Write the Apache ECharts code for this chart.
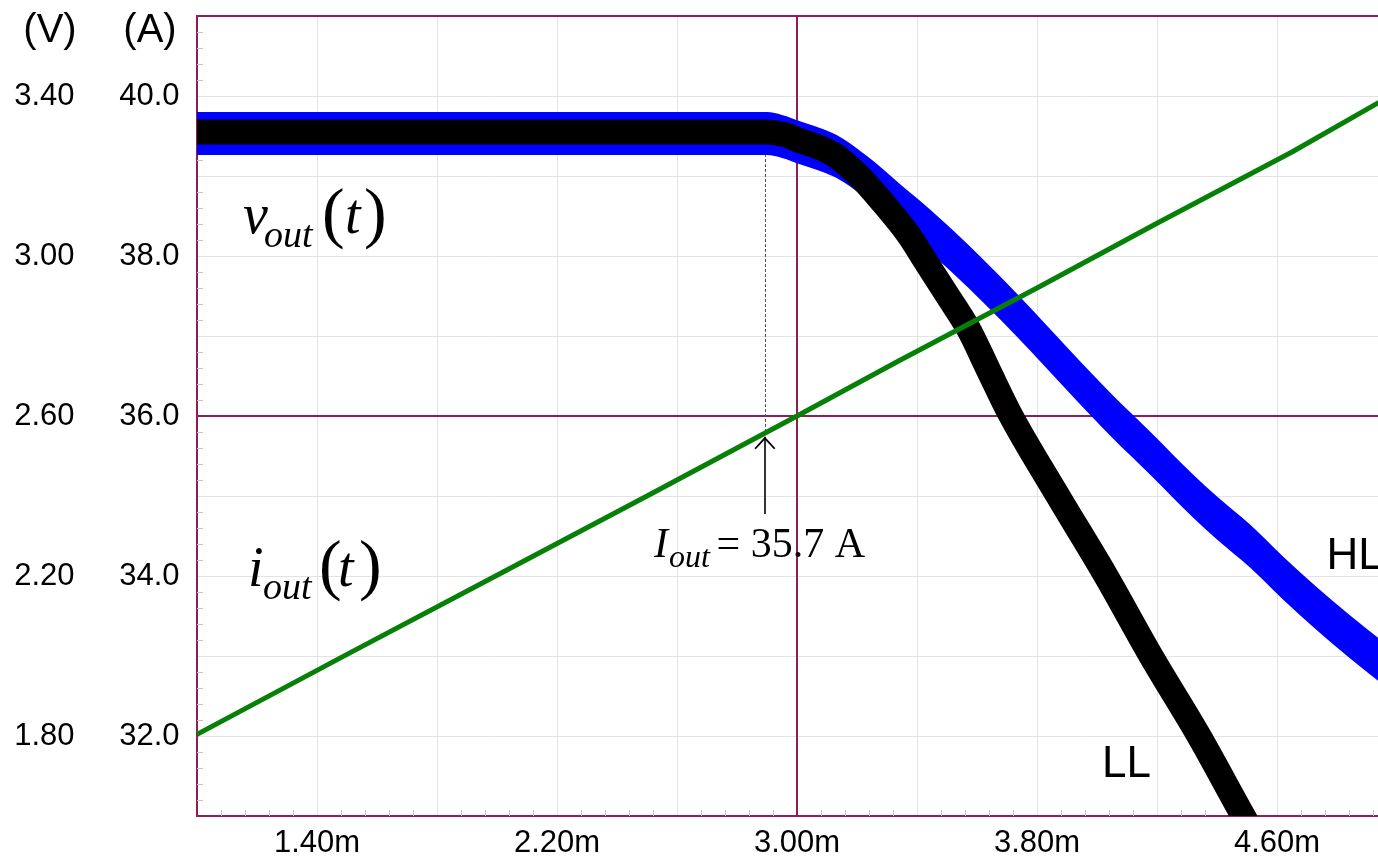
<!DOCTYPE html>
<html><head><meta charset="utf-8">
<script src="https://cdn.jsdelivr.net/npm/echarts@6/dist/echarts.min.js"></script>
<style>html,body{margin:0;padding:0;background:#fff}#c{width:1378px;height:856px}</style>
</head><body><div id="c"></div>
<script>
// ---- data (time in ms, voltage in V, current in A) ----
const timeHL = [1.00, 2.70, 2.90, 2.95, 3.01, 3.12, 3.23, 3.34, 3.45, 3.57, 3.68, 3.78, 3.91, 4.05, 4.18, 4.32, 4.40, 4.51, 4.62, 4.73, 4.84, 4.94, 5.00];
const vHL    = [3.306, 3.306, 3.306, 3.299, 3.283, 3.253, 3.198, 3.128, 3.058, 2.975, 2.893, 2.815, 2.710, 2.600, 2.505, 2.400, 2.345, 2.275, 2.195, 2.120, 2.050, 1.990, 1.955];
const hlRippleV = 0.1075;   // peak-to-peak ripple of the HL trace
const timeLL = [1.00, 2.90, 2.96, 3.01, 3.07, 3.12, 3.20, 3.29, 3.37, 3.43, 3.50, 3.57, 3.64, 3.71, 3.87, 4.03, 4.18, 4.34, 4.48, 4.54];
const vLL    = [3.310, 3.310, 3.303, 3.288, 3.273, 3.255, 3.205, 3.130, 3.055, 2.985, 2.903, 2.820, 2.712, 2.605, 2.400, 2.200, 2.000, 1.800, 1.610, 1.530];
const timeI  = [1.00, 1.50, 2.00, 2.50, 3.00, 3.34, 3.80, 4.20, 4.65, 4.94];
const iOut   = [32.02, 33.02, 34.01, 35.00, 36.00, 36.69, 37.60, 38.41, 39.30, 39.92];
const markerTime = 2.893;          // instant where I_out = 35.7 A
const markerDotTop = 39.275, markerDotBottom = 35.79;
const arrowFrom = 34.775, arrowTo = 35.74;
const xTickValues = [1.4, 2.2, 3.0, 3.8, 4.6];
const xTickLabels = ['1.40m', '2.20m', '3.00m', '3.80m', '4.60m'];
const vTickValues = [1.8, 2.2, 2.6, 3.0, 3.4];
const vTickLabels = ['1.80', '2.20', '2.60', '3.00', '3.40'];
const aTickValues = [32, 34, 36, 38, 40];
const aTickLabels = ['32.0', '34.0', '36.0', '38.0', '40.0'];

const MAROON = '#8E1E55';
const GRIDC = '#e3e3e3';
const TICKC = '#c4c4c4';
const SANS = '"Liberation Sans", Arial, sans-serif';
const SERIF = '"Liberation Serif", "Times New Roman", serif';
const X_MIN = 1.0, X_MAX = 1.0 + 1181 / 300;

function pick(vals, labels) {
  return function (v) {
    const i = vals.findIndex(t => Math.abs(t - v) < 1e-6);
    return i < 0 ? '' : labels[i];
  };
}
function zip(a, b) { return a.map((t, i) => [t, b[i]]); }
// monotone cubic (PCHIP, in x) through pixel points -> bezier path commands (after the M of p[0])
function smoothPath(p) {
  const n = p.length, h = [], d = [], m = [];
  for (let i = 0; i < n - 1; i++) { h.push(p[i + 1][0] - p[i][0]); d.push((p[i + 1][1] - p[i][1]) / h[i]); }
  m[0] = d[0]; m[n - 1] = d[n - 2];
  for (let i = 1; i < n - 1; i++) {
    if (d[i - 1] * d[i] <= 0) { m[i] = 0; continue; }
    const w1 = 2 * h[i] + h[i - 1], w2 = h[i] + 2 * h[i - 1];
    m[i] = (w1 + w2) / (w1 / d[i - 1] + w2 / d[i]);
  }
  let s = '';
  for (let i = 0; i < n - 1; i++) {
    const k = h[i] / 3;
    s += ' C' + (p[i][0] + k) + ',' + (p[i][1] + m[i] * k) + ' ' +
         (p[i + 1][0] - k) + ',' + (p[i + 1][1] - m[i + 1] * k) + ' ' + p[i + 1][0] + ',' + p[i + 1][1];
  }
  return s;
}

const chart = echarts.init(document.getElementById('c'), null, {renderer: 'canvas'});

function txt(text, x, y, font, align) {
  return {type: 'text', x: x, y: y, silent: true, z: 100,
    style: {text: text, font: font, fill: '#000', textAlign: align || 'left', textVerticalAlign: 'middle'}};
}

const arrowPath = 'path://M0,0 L9,10 L7.8,10.9 L0,2.3 L-7.8,10.9 L-9,10 Z M0,-10.9 L0.02,-10.9 L0,-10.88 Z';
const borderLine = {show: true, lineStyle: {color: MAROON, width: 2}};

chart.setOption({
  animation: false,
  backgroundColor: '#fff',
  grid: {left: 197, top: 16, right: 0, height: 800, outerBoundsMode: 'none', containLabel: false},
  xAxis: [
    {
      type: 'value', min: X_MIN, max: X_MAX, interval: 0.4, position: 'bottom',
      axisLine: borderLine,
      axisTick: {show: false, inside: true},
      minorTick: {show: true, splitNumber: 5, length: 6, lineStyle: {color: TICKC, width: 1}},
      splitLine: {show: true, showMinLine: false, showMaxLine: false, lineStyle: {color: GRIDC, width: 1}},
      axisLabel: {margin: 12, fontSize: 31, fontFamily: SANS, color: '#000',
                  showMaxLabel: false, formatter: pick(xTickValues, xTickLabels)}
    },
    {
      type: 'value', min: X_MIN, max: X_MAX, interval: 0.4, position: 'top',
      axisLine: borderLine, axisTick: {show: false}, splitLine: {show: false}, axisLabel: {show: false}
    }
  ],
  yAxis: [
    {
      type: 'value', position: 'left', min: 1.6, max: 3.6, interval: 0.2,
      axisLine: {show: false},
      axisTick: {show: false, inside: true},
      minorTick: {show: true, splitNumber: 5, length: 6, lineStyle: {color: TICKC, width: 1}},
      splitLine: {show: true, showMinLine: false, showMaxLine: false, lineStyle: {color: GRIDC, width: 1}},
      axisLabel: {margin: 122.5, fontSize: 31, fontFamily: SANS, color: '#000', padding: [3, 0, 0, 0],
                  formatter: pick(vTickValues, vTickLabels)}
    },
    {
      type: 'value', position: 'left', min: 31, max: 41, interval: 1,
      axisLine: borderLine, axisTick: {show: false}, splitLine: {show: false},
      axisLabel: {margin: 17.5, fontSize: 31, fontFamily: SANS, color: '#000', padding: [3, 0, 0, 0],
                  formatter: pick(aTickValues, aTickLabels)}
    }
  ],
  series: [
    {
      type: 'custom', name: 'HL', xAxisIndex: 0, yAxisIndex: 0, z: 2, silent: true, clip: true,
      data: zip(timeHL, vHL), encode: {x: 0, y: 1},
      renderItem: function (params, api) {
        if (params.dataIndex !== 0) return null;
        const up = [], lo = [];
        for (let i = 0; i < timeHL.length; i++) {
          up.push(api.coord([timeHL[i], vHL[i] + hlRippleV / 2]));
          lo.push(api.coord([timeHL[i], vHL[i] - hlRippleV / 2]));
        }
        lo.reverse();
        const d = 'M' + up[0][0] + ',' + up[0][1] + smoothPath(up) +
                  ' L' + lo[0][0] + ',' + lo[0][1] + smoothPath(lo) + ' Z';
        return {type: 'path', shape: {pathData: d}, style: {fill: '#0000ff'}};
      }
    },
    {
      type: 'custom', name: 'LL', xAxisIndex: 0, yAxisIndex: 0, z: 3, silent: true, clip: true,
      data: zip(timeLL, vLL), encode: {x: 0, y: 1},
      renderItem: function (params, api) {
        if (params.dataIndex !== 0) return null;
        const pts = timeLL.map((t, i) => api.coord([t, vLL[i]]));
        const d = 'M' + pts[0][0] + ',' + pts[0][1] + smoothPath(pts);
        return {type: 'path', shape: {pathData: d},
                style: {fill: 'none', stroke: '#000', lineWidth: 25, lineCap: 'butt', lineJoin: 'round'}};
      }
    },
    {
      type: 'line', name: 'iout', xAxisIndex: 0, yAxisIndex: 1, z: 4, silent: true,
      data: zip(timeI, iOut), showSymbol: false,
      lineStyle: {color: '#078007', width: 5},
      markLine: {
        silent: true, z: 1, symbol: 'none', label: {show: false}, emphasis: {disabled: true},
        data: [
          {yAxis: 36, lineStyle: {color: MAROON, width: 2, type: 'solid'}},
          {xAxis: 3.0, lineStyle: {color: MAROON, width: 2, type: 'solid'}},
          [
            {coord: [markerTime, markerDotTop], lineStyle: {color: '#555', width: 1, type: [3, 2]}},
            {coord: [markerTime, markerDotBottom], lineStyle: {color: '#555', width: 1, type: [3, 2]}}
          ],
          [
            {coord: [markerTime, arrowFrom], symbol: 'none', lineStyle: {color: '#000', width: 1.6, type: 'solid'}},
            {coord: [markerTime, arrowTo], symbol: arrowPath, symbolSize: [21, 25], lineStyle: {color: '#000', width: 1.6, type: 'solid'}}
          ]
        ]
      }
    }
  ],
  graphic: [
    txt('(V)', 50, 31, '40px ' + SANS, 'center'),
    txt('(A)', 150, 31, '40px ' + SANS, 'center'),
    // v_out(t)
    txt('v', 243, 218, 'italic 56px ' + SERIF),
    txt('out', 264, 237, 'italic 38px ' + SERIF),
    txt('(', 322, 217, '68px ' + SERIF),
    txt('t', 345, 218, 'italic 56px ' + SERIF),
    txt(')', 364, 217, '68px ' + SERIF),
    // i_out(t)
    txt('i', 248, 571, 'italic 56px ' + SERIF),
    txt('out', 263, 589, 'italic 38px ' + SERIF),
    txt('(', 319, 569, '68px ' + SERIF),
    txt('t', 338, 571, 'italic 56px ' + SERIF),
    txt(')', 359, 569, '68px ' + SERIF),
    // I_out = 35.7 A
    txt('I', 654, 546, 'italic 42px ' + SERIF),
    txt('out', 669, 559, 'italic 32px ' + SERIF),
    txt('= 35.7 A', 716.5, 546, '42px ' + SERIF),
    // curve labels
    txt('HL', 1326.5, 557, '44px ' + SANS),
    txt('LL', 1102, 765, '44px ' + SANS)
  ]
});
</script>
</body></html>
